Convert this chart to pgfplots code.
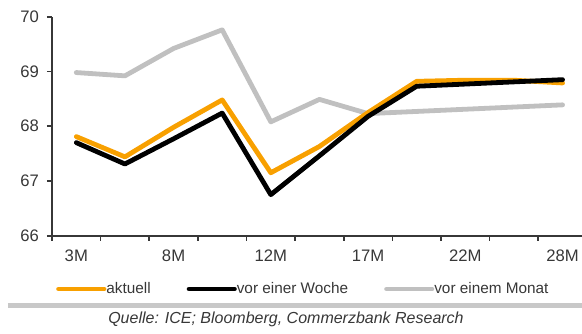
\documentclass[border=0pt]{standalone}
\usepackage{pgfplots}
\pgfplotsset{compat=1.18}
\usepackage{fontspec}
\setmainfont{Liberation Sans}
\definecolor{cbOrange}{RGB}{248,160,0}
\definecolor{cbGray}{RGB}{192,192,192}
\definecolor{ruleGray}{RGB}{200,200,200}
\definecolor{txt}{RGB}{55,55,55}

\begin{document}
\begin{tikzpicture}[x=1pt,y=1pt]
\useasboundingbox (-39,-72.98) rectangle (397.5,176.78);
\begin{axis}[
  at={(0,0)}, anchor=south west,
  scale only axis, width=397.5pt, height=164.25pt,
  xmin=-0.5, xmax=10.4, ymin=66, ymax=70,
  axis lines=left,
  axis line style={draw=txt, line width=1.4pt, -},
  ytick={66,67,68,69,70},
  xtick={-0.5,0.5,1.5,2.5,3.5,4.5,5.5,6.5,7.5,8.5,9.5},
  xticklabels={},
  extra x ticks={0,2,4,6,8,10},
  extra x tick labels={3M,8M,12M,17M,22M,28M},
  extra x tick style={major tick length=0pt, tick label style={yshift=-7pt}},
  tick align=outside, major tick length=3.75pt,
  tick style={draw=txt, line width=1.2pt},
  ticklabel style={font=\fontsize{12.5}{14}\selectfont, text=txt},
  yticklabel style={xshift=-2.5pt},
  /pgf/number format/assume math mode=true,
  clip=false,
  legend columns=3,
  legend style={at={(rel axis cs:0.0075,-0.2434)}, anchor=west,
    draw=none, fill=none, inner sep=0pt,
    font=\fontsize{11.5}{13}\selectfont, text=txt,
    nodes={inner xsep=0pt, inner ysep=1pt},
    /tikz/every even column/.append style={column sep=27pt}},
  legend image code/.code={\draw[#1] (0pt,0pt) -- (34pt,0pt);},
  every axis plot/.append style={line width=3.6pt, line join=round, line cap=round},
]
\addplot[cbGray, forget plot] coordinates {
 (0,68.98) (1,68.92) (2,69.42) (3,69.76) (4,68.08) (5,68.49) (6,68.23) (7,68.27) (8,68.31) (9,68.35) (10,68.39)};
\addplot[cbOrange, forget plot] coordinates {
 (0,67.81) (1,67.44) (2,67.98) (3,68.48) (4,67.15) (5,67.63) (6,68.25) (7,68.82) (8,68.84) (9,68.84) (10,68.79)};
\addplot[black, forget plot] coordinates {
 (0,67.70) (1,67.31) (2,67.77) (3,68.24) (4,66.75) (5,67.46) (6,68.18) (7,68.73) (8,68.77) (9,68.81) (10,68.85)};
\addlegendimage{cbOrange, line width=3.6pt}
\addlegendentry{aktuell}
\addlegendimage{black, line width=3.6pt}
\addlegendentry{vor einer Woche}
\addlegendimage{cbGray, line width=3.6pt}
\addlegendentry{vor einem Monat}
\end{axis}
\draw[ruleGray, line width=3.8pt] (-33,-52.35) -- (397.5,-52.35);
\node[anchor=base, inner sep=0pt, font=\itshape\fontsize{12}{14}\selectfont, text=txt] at (175.5,-66.2) {Quelle: ICE; Bloomberg, Commerzbank Research};
\end{tikzpicture}
\end{document}
